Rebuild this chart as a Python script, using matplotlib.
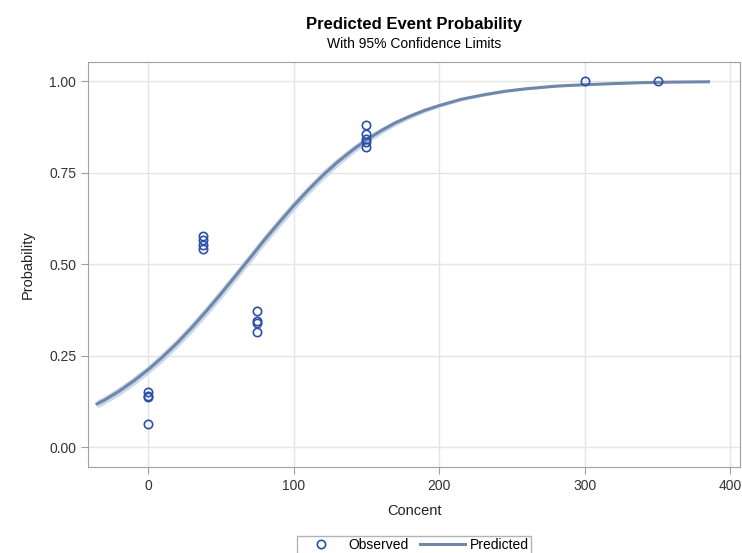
import matplotlib
matplotlib.use("Agg")
import matplotlib.pyplot as plt

plt.rcParams['font.family'] = ['Liberation Sans', 'DejaVu Sans']

# observed proportions
obs_x = [0, 0, 0, 0,
         37.5, 37.5, 37.5, 37.5,
         75, 75, 75, 75,
         150, 150, 150, 150, 150,
         300, 350]
obs_y = [0.150, 0.140, 0.137, 0.063,
         0.576, 0.567, 0.552, 0.540,
         0.373, 0.343, 0.338, 0.314,
         0.880, 0.854, 0.841, 0.834, 0.820,
         1.0, 1.0]

# predicted curve and its 95% limits
pred_x = [-35, -30, -20, -10, 0, 10, 20, 30, 40, 50, 60, 70, 80, 90, 100,
          110, 120, 130, 140, 150, 160, 170, 180, 190, 200, 215, 230, 245,
          260, 280, 300, 320, 340, 360, 385]
pred_y = [0.118, 0.128, 0.152, 0.180, 0.211, 0.246, 0.284, 0.326, 0.371,
          0.418, 0.467, 0.516, 0.566, 0.613, 0.659, 0.702, 0.742, 0.778,
          0.810, 0.839, 0.864, 0.886, 0.904, 0.920, 0.933, 0.950, 0.962,
          0.972, 0.979, 0.986, 0.990, 0.993, 0.9956, 0.997, 0.998]
band = [0.011, 0.011, 0.012, 0.012, 0.012, 0.013, 0.013, 0.014, 0.014,
        0.014, 0.014, 0.014, 0.014, 0.014, 0.014, 0.013, 0.013, 0.012,
        0.011, 0.010, 0.009, 0.008, 0.007, 0.006, 0.005, 0.004, 0.004,
        0.003, 0.003, 0.002, 0.002, 0.002, 0.001, 0.001, 0.001]
lower = [p - b for p, b in zip(pred_y, band)]
upper = [p + b for p, b in zip(pred_y, band)]

fig = plt.figure(figsize=(7.42, 5.53), dpi=100)
ax = fig.add_axes([88/742, 1-467/553, (740-88)/742, (467-62)/553])

ax.fill_between(pred_x, lower, upper, color='#c8d8ec', lw=0, zorder=2)
ax.plot(pred_x, pred_y, color='#7087aa', lw=2.2, zorder=3, label='Predicted')
ax.plot(obs_x, obs_y, 'o', mfc='none', mec='#2a4fa8', mew=1.2, ms=6,
        zorder=4, label='Observed')

ax.set_xlim(-41.2, 406.6)
ax.set_ylim(-0.0546, 1.052)
ax.set_xticks([0, 100, 200, 300, 400])
ax.set_yticks([0, 0.25, 0.5, 0.75, 1.0])
ax.set_yticklabels(['0.00', '0.25', '0.50', '0.75', '1.00'])
ax.grid(True, color='#e4e4e4', lw=1)
ax.set_axisbelow(True)
for s in ax.spines.values():
    s.set_color('#a0a0a0')
ax.tick_params(colors='#a0a0a0', labelcolor='#333333', labelsize=10, length=5)

ax.set_xlabel('Concent', fontsize=10.5, color='#222222', labelpad=8)
ax.set_ylabel('Probability', fontsize=10.5, color='#222222', labelpad=10)

fig.text(414/742, 1-24/553, 'Predicted Event Probability', ha='center',
         va='center', fontsize=12, fontweight='bold')
fig.text(414/742, 1-44/553, 'With 95% Confidence Limits', ha='center',
         va='center', fontsize=10)

h, l = ax.get_legend_handles_labels()
leg = fig.legend([h[1], h[0]], [l[1], l[0]], loc='upper center',
                 bbox_to_anchor=(414/742, 1-536/553), ncol=2, fontsize=10,
                 frameon=True, fancybox=False, edgecolor='#a0a0a0',
                 handlelength=3.2, columnspacing=0.8, borderpad=0.15,
                 handletextpad=0.4, borderaxespad=0)
leg.get_frame().set_linewidth(1)

fig.savefig('out.png', dpi=100)
